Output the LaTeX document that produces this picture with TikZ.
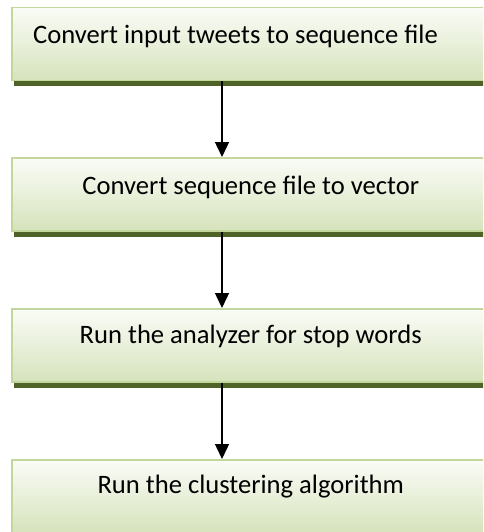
\documentclass[tikz,border=0pt]{standalone}
\usepackage{fontspec}
\setmainfont{Carlito}
\usetikzlibrary{arrows.meta}
\definecolor{boxtop}{HTML}{FAFCF7}
\definecolor{boxbot}{HTML}{D6E3BC}
\definecolor{boxline}{HTML}{C3D69B}
\definecolor{shadowc}{HTML}{4F6228}
\tikzset{
  stepbox/.style={rectangle, draw=boxline, line width=1.5pt, top color=boxtop, bottom color=boxbot,
    minimum width=478pt, minimum height=73pt, inner sep=0pt, anchor=north west},
  lbl/.style={font=\fontsize{26.6}{31}\selectfont, inner sep=0pt, text=black},
  arr/.style={draw=black, line width=1.4pt, -{Triangle[width=14pt,length=15pt]}},
  shd/.style={fill=shadowc}
}
\begin{document}
\begin{tikzpicture}[x=1pt,y=-1pt]
\useasboundingbox (0,0) rectangle (483,532);
\clip (0,0) rectangle (483,532);
\coordinate (ax) at (222,0);
\node[stepbox] (b1) at (11,7) {};
\node[stepbox] (b2) at (11,157) {};
\node[stepbox] (b3) at (11,308) {};
\node[stepbox] (b4) at (11,459) {};
\fill[shd] ([xshift=3pt]b1.south west) rectangle ([xshift=3pt,yshift=-5pt]b1.south east);
\fill[shd] ([xshift=3pt]b2.south west) rectangle ([xshift=3pt,yshift=-5pt]b2.south east);
\fill[shd] ([xshift=3pt]b3.south west) rectangle ([xshift=3pt,yshift=-5pt]b3.south east);
\node[lbl, anchor=base west] (t1) at ([xshift=22pt,yshift=-37pt]b1.north west) {Convert input tweets to sequence file};
\node[lbl, anchor=base] (t2) at ([xshift=0pt,yshift=-37pt]b2.north) {Convert sequence file to vector};
\node[lbl, anchor=base] (t3) at ([xshift=0pt,yshift=-35pt]b3.north) {Run the analyzer for stop words};
\node[lbl, anchor=base] (t4) at ([xshift=0pt,yshift=-34pt]b4.north) {Run the clustering algorithm};
\draw[arr] (b1.south -| ax) -- (b2.north -| ax);
\draw[arr] (b2.south -| ax) -- (b3.north -| ax);
\draw[arr] (b3.south -| ax) -- (b4.north -| ax);
\end{tikzpicture}
\end{document}
